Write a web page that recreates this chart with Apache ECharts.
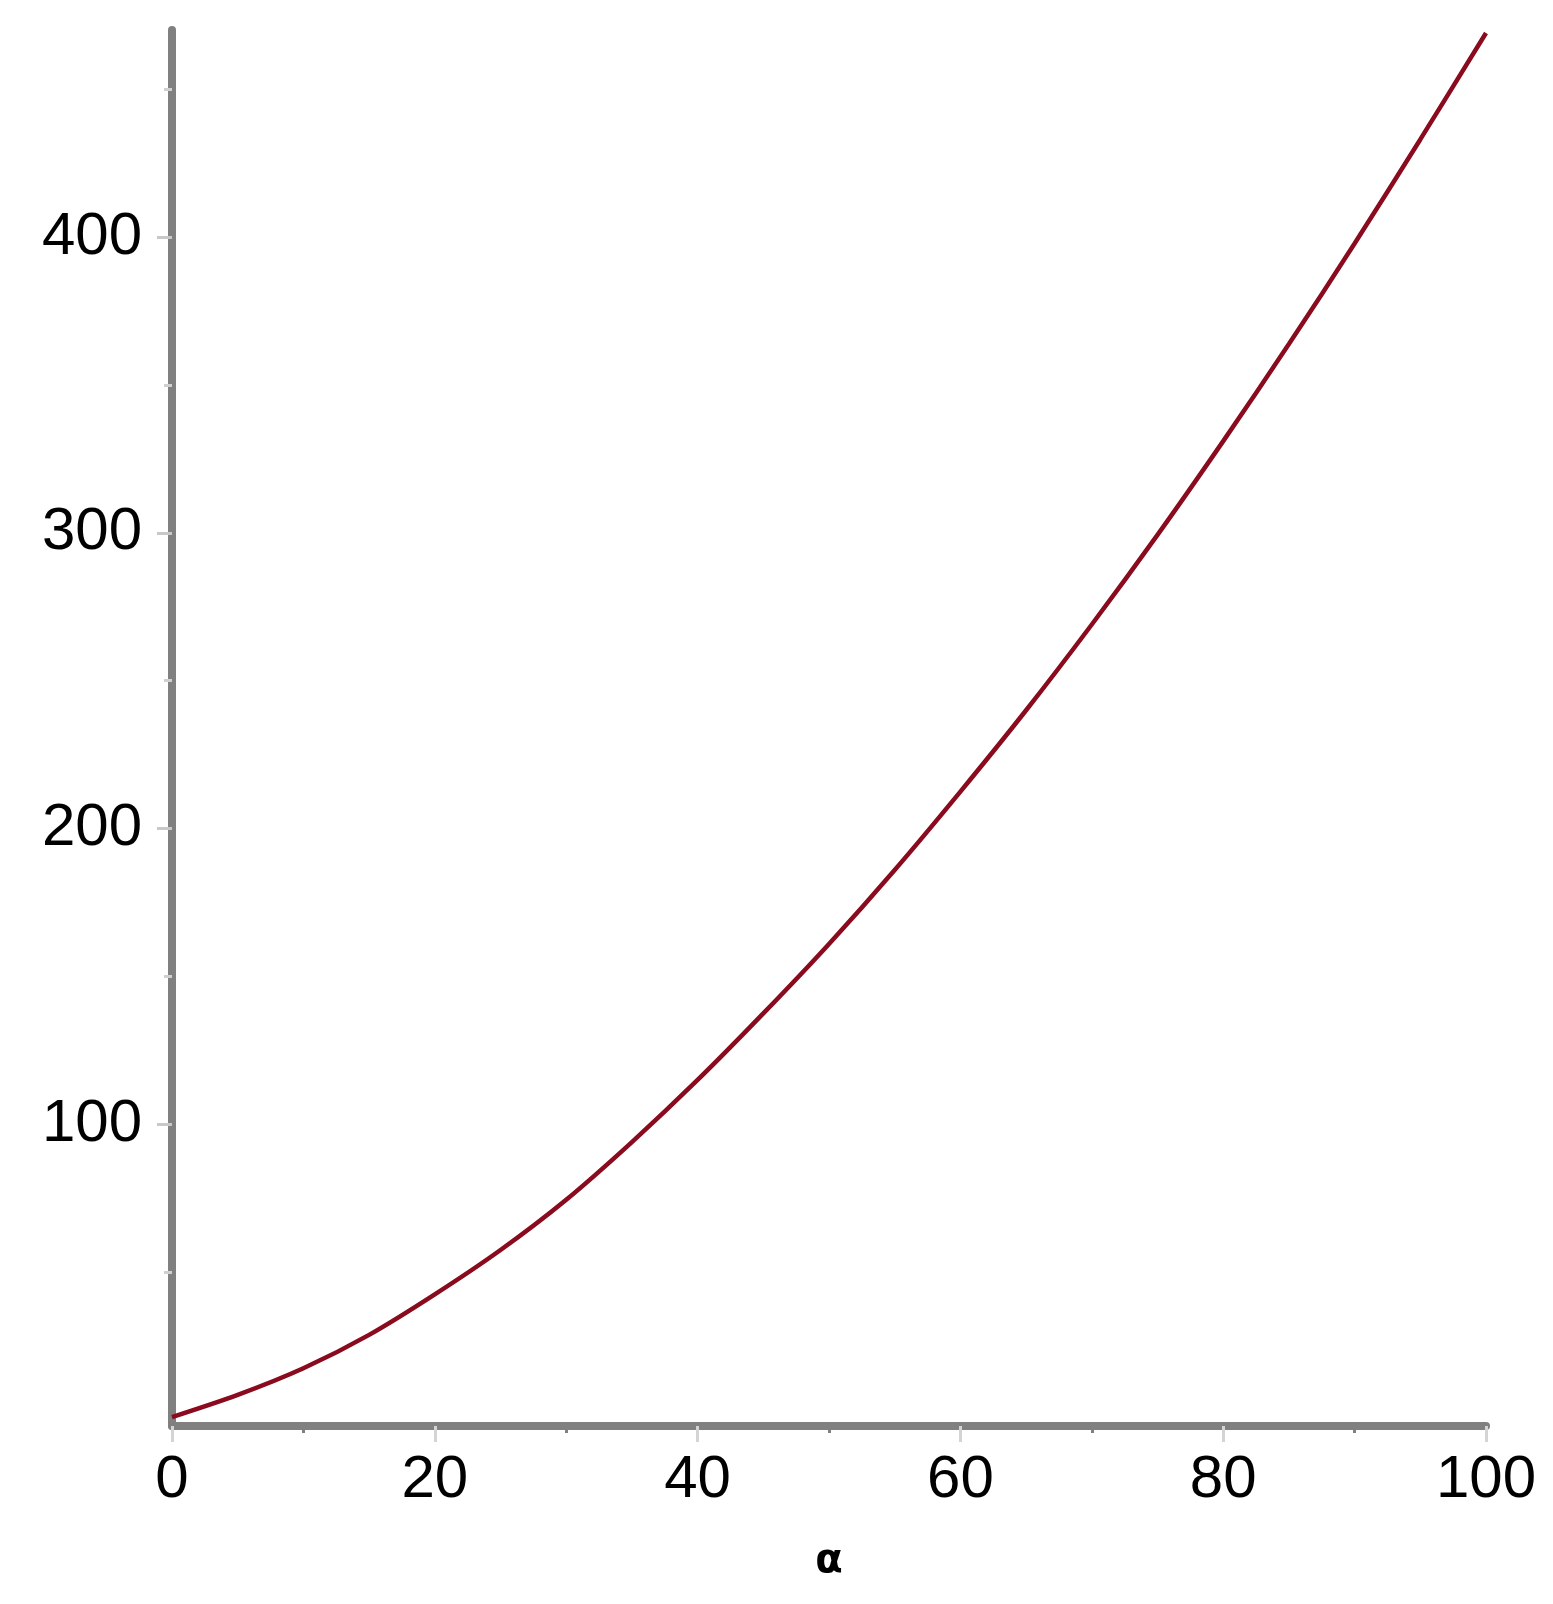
<!DOCTYPE html>
<html>
<head>
<meta charset="utf-8">
<script src="https://cdn.jsdelivr.net/npm/echarts@6/dist/echarts.min.js"></script>
<style>
  html, body { margin: 0; padding: 0; background: #fff; }
  #chart { width: 1553px; height: 1604px; }
</style>
</head>
<body>
<div id="chart"></div>
<script>
// x values (alpha) and curve values
const alphaValues = [0, 5, 10, 15, 20, 25, 30, 35, 40, 45, 50, 55, 60, 65, 70, 75, 80, 85, 90, 95, 100];
const curveValues = [1, 8.5, 17.5, 28.8, 42.5, 57.5, 74.5, 94, 115, 137.5, 161, 186, 212.5, 240, 269, 299.3, 331, 363.8, 397.8, 433, 469];
// tick labels
const yLabelValues = [100, 200, 300, 400];
const yMinorValues = [50, 150, 250, 350, 450];

const chart = echarts.init(document.getElementById('chart'));

const lineData = alphaValues.map((a, i) => [a, curveValues[i]]);

const labelFont = {
  fontFamily: 'Liberation Sans',
  fontSize: 60,
  color: '#000'
};

const option = {
  animation: false,
  backgroundColor: '#fff',
  grid: {
    left: 172,
    right: 67,
    top: 30,
    bottom: 178,
    containLabel: false,
    outerBoundsMode: 'none'
  },
  xAxis: {
    type: 'value',
    min: 0,
    max: 100,
    interval: 20,
    name: 'α',
    nameLocation: 'middle',
    nameGap: 116,
    nameTextStyle: {
      fontFamily: 'DejaVu Sans',
      fontWeight: 'bold',
      fontSize: 40,
      color: '#000'
    },
    axisLine: { show: true, onZero: false, lineStyle: { color: '#808080', width: 8 } },
    axisTick: { show: true, length: 16, lineStyle: { color: '#d4d4d4', width: 3 } },
    minorTick: { show: true, splitNumber: 2, length: 7, lineStyle: { color: '#808080', width: 3 } },
    splitLine: { show: false },
    axisLabel: Object.assign({ margin: 24 }, labelFont)
  },
  yAxis: [
    {
      type: 'value',
      min: -2,
      max: 470,
      axisLine: { show: true, onZero: false, lineStyle: { color: '#808080', width: 8 } },
      axisTick: { show: true, length: 15, customValues: yLabelValues, lineStyle: { color: '#c8c8c8', width: 3 } },
      splitLine: { show: false },
      axisLabel: Object.assign({ margin: 30, customValues: yLabelValues }, labelFont)
    },
    {
      // minor ticks only
      type: 'value',
      min: -2,
      max: 470,
      position: 'left',
      axisLine: { show: false },
      axisTick: { show: true, length: 8, customValues: yMinorValues, lineStyle: { color: '#d0d0d0', width: 3 } },
      splitLine: { show: false },
      axisLabel: { show: false }
    }
  ],
  series: [
    {
      type: 'line',
      data: lineData,
      smooth: 0.3,
      showSymbol: false,
      lineStyle: { color: '#8a0a1e', width: 4.5 },
      z: 1
    }
  ]
};

chart.setOption(option);
</script>
</body>
</html>
